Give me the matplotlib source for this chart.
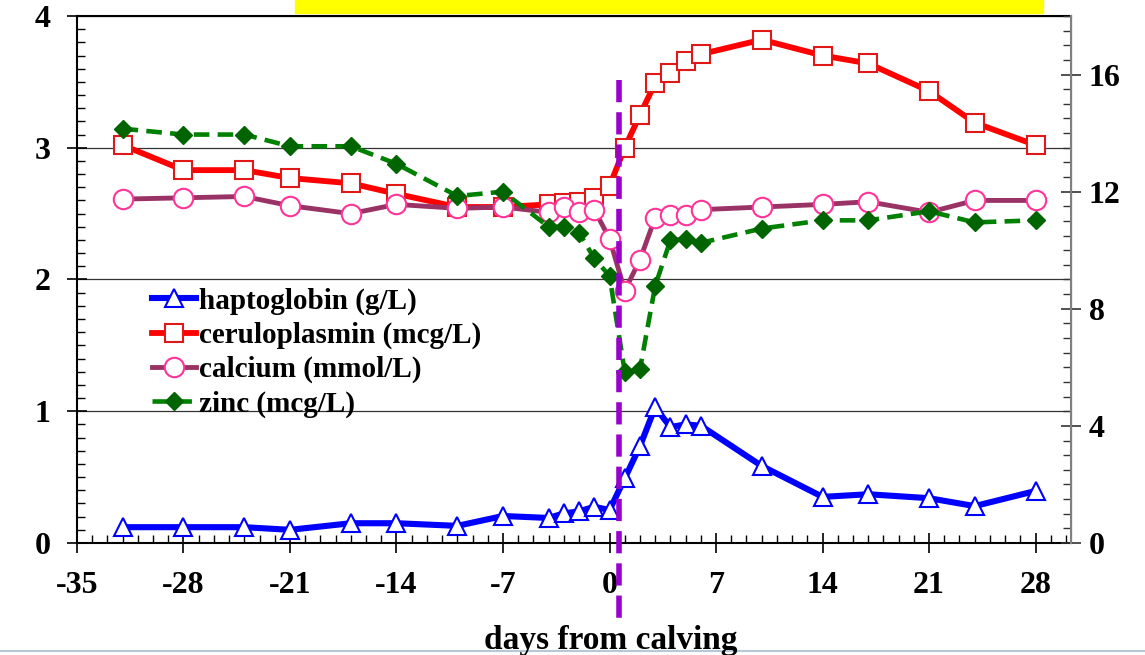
"""
Haptoglobin, ceruloplasmin, calcium and zinc around calving.

Two y axes: left for the protein / calcium values, right for zinc.
A dashed purple marker shows the calving moment.
"""

import matplotlib
matplotlib.use('Agg')
import matplotlib.pyplot as plt
from matplotlib.ticker import MultipleLocator
from matplotlib.lines import Line2D
from matplotlib.patches import Rectangle

# ==========================================
# --- DATA ---
# ==========================================

DAYS = [-32, -28, -24, -21, -17, -14, -10, -7, -4, -3, -2, -1, 0,
        1, 2, 3, 4, 5, 6, 10, 14, 17, 21, 24, 28]

HAPTOGLOBIN = [0.12, 0.12, 0.12, 0.10, 0.15, 0.15, 0.13, 0.205, 0.19, 0.225,
               0.24, 0.275, 0.25, 0.49, 0.735, 1.03, 0.88, 0.90, 0.89, 0.585,
               0.35, 0.37, 0.34, 0.28, 0.395]

CERULOPLASMIN = [3.02, 2.83, 2.83, 2.77, 2.73, 2.65, 2.55, 2.55, 2.57, 2.58,
                 2.59, 2.62, 2.71, 3.00, 3.25, 3.49, 3.57, 3.66, 3.71, 3.82,
                 3.70, 3.64, 3.43, 3.19, 3.02]

CALCIUM = [2.61, 2.62, 2.63, 2.56, 2.50, 2.57, 2.54, 2.55, 2.51, 2.55,
           2.51, 2.53, 2.31, 1.915, 2.15, 2.47, 2.49, 2.49, 2.53, 2.55,
           2.57, 2.59, 2.51, 2.60, 2.60]

ZINC = [14.15, 13.95, 13.95, 13.55, 13.55, 12.95, 11.85, 12.0, 10.8, 10.8,
        10.6, 9.72, 9.12, 5.85, 5.93, 8.78, 10.34, 10.38, 10.25, 10.74,
        11.02, 11.02, 11.33, 10.95, 11.02]

LABELS = ['haptoglobin (g/L)', 'ceruloplasmin (mcg/L)',
          'calcium (mmol/L)', 'zinc (mcg/L)']

X_TICKS = [-35, -28, -21, -14, -7, 0, 7, 14, 21, 28]
LEFT_TICKS = [0, 1, 2, 3, 4]
RIGHT_TICKS = [0, 4, 8, 12, 16]

CALVING_DAY = 0.6            # where the dashed marker is drawn
X_LABEL = 'days from calving'

# ==========================================
# --- STYLE ---
# ==========================================

FONT = 'Liberation Serif'
TICK_SIZE = 23
LEGEND_SIZE = 21
LABEL_SIZE = 24

plt.rcParams['font.family'] = [FONT, 'DejaVu Serif']
plt.rcParams['font.weight'] = 'bold'
plt.rcParams['axes.unicode_minus'] = False


def style_axis(ax, side):
    ax.tick_params(axis='y', which='major', direction='inout', length=14,
                   width=1.2, labelsize=TICK_SIZE, pad=12 if side == 'left' else 6)
    ax.tick_params(axis='y', which='minor', direction='in', length=6, width=1.0)


def main():
    fig = plt.figure(figsize=(11.45, 6.55), dpi=100)
    ax = fig.add_axes([0.0672, 0.171, 0.8678, 0.8046])
    ax2 = ax.twinx()

    # --- left axis series ---
    ax.plot(DAYS, HAPTOGLOBIN, color='#0000FF', lw=4.4, marker='^', ms=13.5,
            mfc='white', mec='#0000FF', mew=1.5, zorder=3)
    ax.plot(DAYS, CERULOPLASMIN, color='#FF0000', lw=4.2, marker='s', ms=13.5,
            mfc='white', mec='#E01818', mew=1.5, zorder=3)
    ax.plot(DAYS, CALCIUM, color='#993366', lw=3.5, marker='o', ms=14,
            mfc='white', mec='#FF3399', mew=1.5, zorder=4)

    # --- right axis series ---
    ax2.plot(DAYS, ZINC, color='#008000', lw=3.3, ls=(0, (3.4, 1.8)),
             marker='D', ms=9, mfc='#006400', mec='#006400', zorder=3)

    # calving marker (runs past the axes like in the slide)
    ax2.plot([CALVING_DAY, CALVING_DAY], [15.8, -2.8], color='#9900CC', lw=4.0,
             ls=(0, (4, 1.8)), clip_on=False, zorder=10)

    # --- axes limits / ticks ---
    ax.set_xlim(-35, 30.3)
    ax.set_ylim(0, 4)
    ax2.set_ylim(0, 18)

    ax.set_xticks(X_TICKS)
    ax.xaxis.set_minor_locator(MultipleLocator(1))
    ax.set_yticks(LEFT_TICKS)
    ax.yaxis.set_minor_locator(MultipleLocator(0.1))
    ax2.set_yticks(RIGHT_TICKS)
    ax2.yaxis.set_minor_locator(MultipleLocator(0.5))

    ax.tick_params(axis='x', which='major', direction='inout', length=15,
                   width=1.2, labelsize=TICK_SIZE, pad=13)
    ax.tick_params(axis='x', which='minor', direction='in', length=6, width=1.0)
    style_axis(ax, 'left')
    style_axis(ax2, 'right')
    ax2.tick_params(axis='y', which='both', color='#333333')

    for label in ax.get_xticklabels() + ax.get_yticklabels() + ax2.get_yticklabels():
        label.set_fontweight('bold')

    # gridlines at each left major tick
    ax.yaxis.grid(True, which='major', color='#333333', lw=0.9)
    ax.set_axisbelow(True)

    for name in ['left', 'bottom', 'top']:
        ax.spines[name].set_linewidth(1.5)
        ax.spines[name].set_color('black')
    ax2.spines['right'].set_color('#808080')
    ax2.spines['right'].set_linewidth(1.5)
    for name in ['left', 'bottom', 'top']:
        ax2.spines[name].set_visible(False)

    # --- legend ---
    handles = ax.get_lines()[:3] + ax2.get_lines()[:1]
    ax2.legend(handles, LABELS, loc='upper left', bbox_to_anchor=(0.0755, 0.485),
               frameon=False, borderpad=0, borderaxespad=0,
               handlelength=1.5, handletextpad=0.1, labelspacing=0.24,
               prop={'family': FONT, 'weight': 'bold', 'size': LEGEND_SIZE})

    # --- x label, centred under day 0 and cut by the slide edge ---
    fig.text(611 / 1145, 1 - 649 / 655, X_LABEL, ha='center', va='baseline',
             fontsize=LABEL_SIZE, fontweight='bold')

    # yellow banner at the top of the slide
    fig.patches.append(Rectangle((295 / 1145, 1 - 13 / 655), 748 / 1145, 13 / 655,
                                 transform=fig.transFigure, color='#FFFF00',
                                 zorder=0))
    # slide bottom edge
    fig.lines.append(Line2D([0, 1], [1 - 651 / 655] * 2, transform=fig.transFigure,
                            color='#B8C7D9', lw=1.5))

    fig.savefig('out.png', dpi=100)
    plt.close(fig)


if __name__ == "__main__":
    main()
